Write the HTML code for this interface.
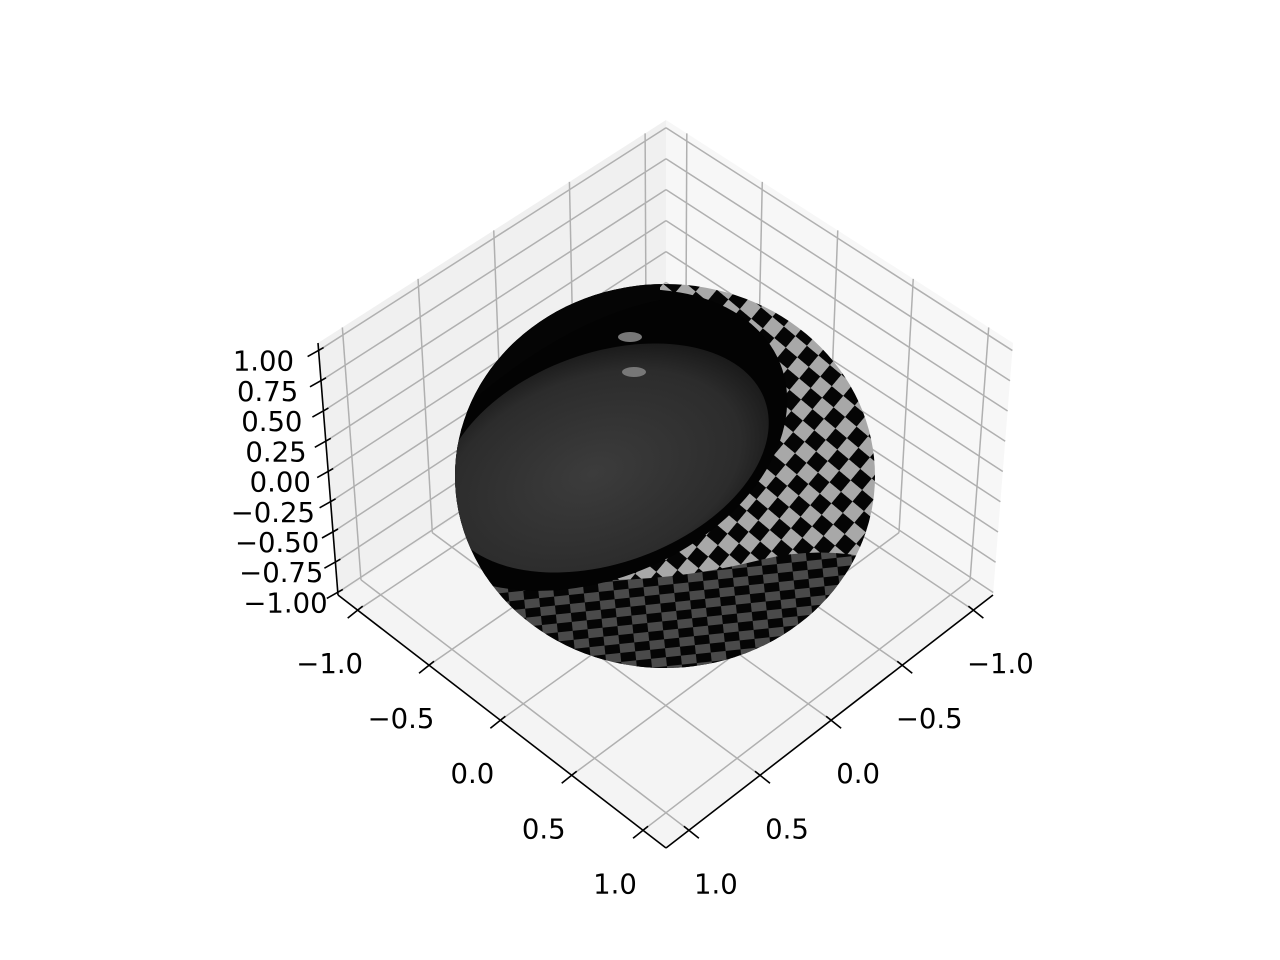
<!DOCTYPE html>
<html><head><meta charset="utf-8"><style>
html,body{margin:0;padding:0;background:#fff}
svg{display:block}
text{font-family:"DejaVu Sans","Liberation Sans",sans-serif;font-size:27.5px;fill:#000}
</style></head><body>
<svg id="chart" width="1280" height="960" viewBox="0 0 1280 960" xmlns="http://www.w3.org/2000/svg">
<defs>
<pattern id="chk" width="30" height="30" patternUnits="userSpaceOnUse" patternTransform="rotate(40 665 476)">
<rect width="30" height="30" fill="#050505"/><rect width="15" height="15" fill="#a8a8a8"/><rect x="15" y="15" width="15" height="15" fill="#a8a8a8"/>
</pattern>
<pattern id="chk2" width="30" height="18" patternUnits="userSpaceOnUse" patternTransform="rotate(-6 665 600)">
<rect width="30" height="18" fill="#050505"/><rect width="15" height="9" fill="#4a4a4a"/><rect x="15" y="9" width="15" height="9" fill="#4a4a4a"/>
</pattern>
<radialGradient id="inner" cx="0.45" cy="0.55" r="0.6">
<stop offset="0" stop-color="#3c3c3c"/><stop offset="0.75" stop-color="#2c2c2c"/><stop offset="1" stop-color="#151515"/>
</radialGradient>
<clipPath id="sph"><ellipse cx="665" cy="476" rx="210" ry="192"/></clipPath>
</defs>
<g id="panes"></g>
<g id="grid"></g>
<g id="sphere" clip-path="url(#sph)">
<rect x="450" y="280" width="430" height="400" fill="url(#chk)"/>
<path d="M450 560 Q600 600 760 560 Q820 545 880 560 L880 680 L450 680 Z" fill="url(#chk2)"/>
<ellipse cx="590" cy="440" rx="205" ry="140" transform="rotate(-22 590 440)" fill="#030303"/>
<path d="M450 280 L660 280 L660 300 Q560 320 450 420 Z" fill="#050505"/>
<ellipse cx="605" cy="458" rx="170" ry="105" transform="rotate(-20 605 458)" fill="url(#inner)"/>
<ellipse cx="630" cy="337" rx="12" ry="5" fill="#777"/>
<ellipse cx="634" cy="372" rx="12" ry="5" fill="#777"/>
</g>
<g id="axes"></g>
</svg>
<script>
// tick values
const xTicks=[-1,-0.5,0,0.5,1];
const xLabels=['\u22121.0','\u22120.5','0.0','0.5','1.0'];
const yTicks=[-1,-0.5,0,0.5,1];
const yLabels=['\u22121.0','\u22120.5','0.0','0.5','1.0'];
const zTicks=[-1,-0.75,-0.5,-0.25,0,0.25,0.5,0.75,1];
const zLabels=['\u22121.00','\u22120.75','\u22120.50','\u22120.25','0.00','0.25','0.50','0.75','1.00'];

const NS='http://www.w3.org/2000/svg';
const B=[666,378],T=[666,120],Lf=[338,595],Lt=[318,343],F=[666,848],Rf=[993,595],Rt=[1013,343];
function fx(v){return 0.495+0.435*v;}
function fz(v){return 0.49+0.48*v;}
function bil(p00,p10,p01,p11,u,v){
  return [p00[0]*(1-u)*(1-v)+p10[0]*u*(1-v)+p01[0]*(1-u)*v+p11[0]*u*v,
          p00[1]*(1-u)*(1-v)+p10[1]*u*(1-v)+p01[1]*(1-u)*v+p11[1]*u*v];}
function mk(tag,attrs,parent){const e=document.createElementNS(NS,tag);for(const k in attrs)e.setAttribute(k,attrs[k]);parent.appendChild(e);return e;}
const panes=document.getElementById('panes'),grid=document.getElementById('grid'),axes=document.getElementById('axes');
function poly(pts){return pts.map(p=>p.join(',')).join(' ');}
let p=mk('polygon',{points:poly([B,Lf,Lt,T]),fill:'#f0f0f0'},panes);


p=mk('polygon',{points:poly([B,Rf,Rt,T]),fill:'#f7f7f7'},panes);


p=mk('polygon',{points:poly([B,Rf,F,Lf]),fill:'#f4f4f4'},panes);


function gl(a,b){const l=mk('line',{x1:a[0],y1:a[1],x2:b[0],y2:b[1],stroke:'#b0b0b0','stroke-width':1.5},grid);

}
xTicks.forEach(v=>{const a=fx(v);gl(bil(B,Rf,Lf,F,a,0),bil(B,Rf,Lf,F,a,1));
  gl(bil(B,Rf,Lf,F,0,a),bil(B,Rf,Lf,F,1,a));});
yTicks.forEach(v=>{const b=fx(v);gl(bil(B,Lf,T,Lt,b,0),bil(B,Lf,T,Lt,b,1));gl(bil(B,Rf,T,Rt,b,0),bil(B,Rf,T,Rt,b,1));});
zTicks.forEach(v=>{const c=fz(v);gl(bil(B,Lf,T,Lt,0,c),bil(B,Lf,T,Lt,1,c));gl(bil(B,Rf,T,Rt,0,c),bil(B,Rf,T,Rt,1,c));});
function al(a,b,name){const l=mk('line',{x1:a[0],y1:a[1],x2:b[0],y2:b[1],stroke:'#000','stroke-width':1.6},axes);

}
al(Lf,F,'x-axis-line');al(Rf,F,'y-axis-line');al(Lf,Lt,'z-axis-line');
function lab(x,y,s,anchor,name){const t=mk('text',{x:x,y:y,'text-anchor':anchor},axes);t.textContent=s;

}
xTicks.forEach((v,i)=>{const t=fx(v);const P=[Lf[0]+t*(F[0]-Lf[0]),Lf[1]+t*(F[1]-Lf[1])];
  al([P[0]+5,P[1]-4],[P[0]-10,P[1]+8],'x-tick');
  lab(P[0]-28,P[1]+63,xLabels[i],'middle','x-tick-label');});
yTicks.forEach((v,i)=>{const t=fx(v);const P=[Rf[0]+t*(F[0]-Rf[0]),Rf[1]+t*(F[1]-Rf[1])];
  al([P[0]-5,P[1]-4],[P[0]+10,P[1]+8],'y-tick');
  lab(P[0]+27,P[1]+63,yLabels[i],'middle','y-tick-label');});
zTicks.forEach((v,i)=>{const t=fz(v);const P=[Lf[0]+t*(Lt[0]-Lf[0]),Lf[1]+t*(Lt[1]-Lf[1])];
  al([P[0]+5,P[1]-3],[P[0]-11,P[1]+6],'z-tick');
  lab(P[0]-10-15*t,P[1]+20,zLabels[i],'end','z-tick-label');});
</script>
</body></html>
